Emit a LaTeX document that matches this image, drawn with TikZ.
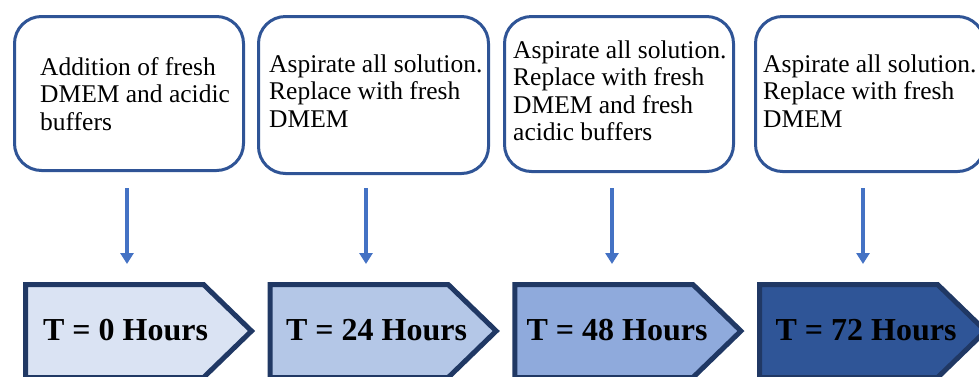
\documentclass[tikz,border=0pt]{standalone}
\usepackage{fontspec}
\setmainfont{Liberation Serif}
\usetikzlibrary{arrows.meta}
\definecolor{boxline}{HTML}{2F5496}
\definecolor{arrowblue}{HTML}{4472C4}
\definecolor{navy}{HTML}{203864}
\definecolor{fillA}{HTML}{DAE3F3}
\definecolor{fillB}{HTML}{B4C7E7}
\definecolor{fillC}{HTML}{8FAADC}
\definecolor{fillD}{HTML}{2F5597}
\begin{document}
\begin{tikzpicture}[x=1pt,y=-1pt,
  box/.style={draw=boxline, line width=3pt, rounded corners=27pt, fill=white, inner sep=0pt},
  txt/.style={align=left, anchor=north west, inner sep=0pt, font=\fontsize{25.5}{27.5}\selectfont},
  hrs/.style={anchor=base, inner sep=0pt, font=\fontsize{32}{36}\selectfont\bfseries},
  pent/.style={draw=navy, line width=5pt, miter limit=10},
  arr/.style={draw=arrowblue, line width=3.5pt, -{Triangle[length=11pt,width=13pt]}}]
\useasboundingbox (0,0) rectangle (979,376);
\clip (0,0) rectangle (979,376);

% top boxes
\node[box, minimum width=229pt, minimum height=154pt] (b1) at (129,93.5) {};
\node[box, minimum width=230pt, minimum height=157pt] (b2) at (373.5,95) {};
\node[box, minimum width=229pt, minimum height=155pt] (b3) at (619,94) {};
\node[box, minimum width=229pt, minimum height=155pt] (b4) at (870,94) {};

\node[txt] (l1) at (40,55.75) {\strut Addition of fresh\\DMEM and acidic\\buffers};
\node[txt] (l2) at (269,52.75) {\strut Aspirate all solution.\\Replace with fresh\\DMEM};
\node[txt] (l3) at (513,38.75) {\strut Aspirate all solution.\\Replace with fresh\\DMEM and fresh\\acidic buffers};
\node[txt] (l4) at (763,52.75) {\strut Aspirate all solution.\\Replace with fresh\\DMEM};

% pentagons
\path[pent, fill=fillA] (25.5,284.5) -- ++(178,0) -- ++(48,46.5) -- ++(-48,46.5) -- ++(-178,0) -- cycle;
\path[pent, fill=fillB] (270.2,284.5) -- ++(178,0) -- ++(48,46.5) -- ++(-48,46.5) -- ++(-178,0) -- cycle;
\path[pent, fill=fillC] (514.9,284.5) -- ++(178,0) -- ++(48,46.5) -- ++(-48,46.5) -- ++(-178,0) -- cycle;
\path[pent, fill=fillD] (759.6,284.5) -- ++(178,0) -- ++(48,46.5) -- ++(-48,46.5) -- ++(-178,0) -- cycle;

\node[hrs] (t1) at (125.5,340) {T = 0 Hours};
\node[hrs] (t2) at (376.5,340) {T = 24 Hours};
\node[hrs] (t3) at (617,340) {T = 48 Hours};
\node[hrs] (t4) at (866,340) {T = 72 Hours};

% arrows
\draw[arr] ([xshift=-2pt,yshift=-16pt]b1.south) -- ++(0,76);
\draw[arr] ([xshift=-7.5pt,yshift=-13pt]b2.south) -- ++(0,76);
\draw[arr] ([xshift=-7pt,yshift=-15pt]b3.south) -- ++(0,76);
\draw[arr] ([xshift=-7pt,yshift=-15pt]b4.south) -- ++(0,76);
\end{tikzpicture}
\end{document}
